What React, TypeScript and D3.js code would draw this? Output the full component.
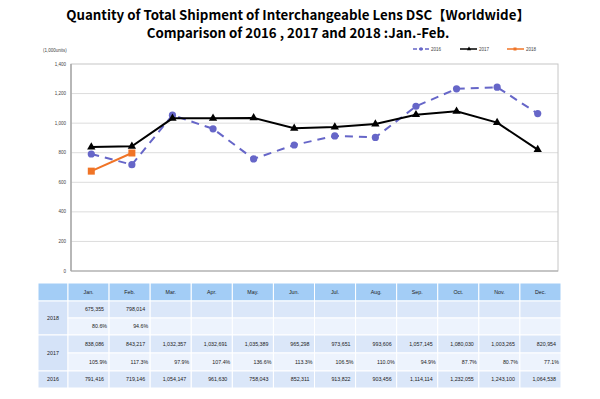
import * as d3 from "d3";

const MONTHS = ["Jan.", "Feb.", "Mar.", "Apr.", "May.", "Jun.", "Jul.", "Aug.", "Sep.", "Oct.", "Nov.", "Dec."];

// shipments, units
const S2016 = [791416, 719146, 1054147, 961630, 758043, 852311, 913822, 903456, 1114114, 1232055, 1243100, 1064538];
const S2017 = [838086, 843217, 1032357, 1032691, 1035389, 965298, 973651, 993606, 1057145, 1080030, 1003265, 820954];
const S2018 = [675355, 798014];

// year-on-year ratios shown in the table
const R2017 = ["105.9%", "117.3%", "97.9%", "107.4%", "136.6%", "113.3%", "106.5%", "110.0%", "94.9%", "87.7%", "80.7%", "77.1%"];
const R2018 = ["80.6%", "94.6%"];

const Y_TICKS = [0, 200, 400, 600, 800, 1000, 1200, 1400];

const C2016 = "#6666c8";
const C2017 = "#000000";
const C2018 = "#f07426";

const FONT = "'Liberation Sans', Arial, sans-serif";
const TITLE_FONT = "'Noto Sans CJK JP', 'Noto Sans', sans-serif";

const fmt = d3.format(",");

export default function App() {
  const W = 600, H = 399;
  const plot = { left: 71, right: 558, top: 64, bottom: 271 };

  const x = d3.scaleBand<string>().domain(MONTHS).range([plot.left, plot.right]);
  const y = d3.scaleLinear().domain([0, 1400]).range([plot.bottom, plot.top]);
  const cx = (i: number) => (x(MONTHS[i]) as number) + x.bandwidth() / 2;

  const line = d3
    .line<number>()
    .x((_, i) => cx(i))
    .y((d) => y(d / 1000));

  const tri = d3.symbol().type(d3.symbolTriangle).size(30)();

  // table geometry
  const tx = d3.scaleBand<string>().domain(MONTHS).range([68, 561]);
  const labelX0 = 38;
  const rowEdges = [283, 301, 318, 335, 353, 371, 388];
  const HEAD = "#a3cdf6";
  const ROW_A = "#dbe7f9";
  const ROW_B = "#edf3fd";
  const LABEL = "#d5e3f8";

  const rows = [
    { label: "2018", span: 2, cells: [S2018.map(fmt), R2018], fills: [ROW_A, ROW_B] },
    { label: "2017", span: 2, cells: [S2017.map(fmt), R2017], fills: [ROW_A, ROW_B] },
    { label: "2016", span: 1, cells: [S2016.map(fmt)], fills: [ROW_A] },
  ];

  let r = 1;
  const tableRows: any[] = [];
  rows.forEach((row) => {
    const top = rowEdges[r];
    const bottom = rowEdges[r + row.span];
    tableRows.push({ kind: "label", label: row.label, top, bottom });
    row.cells.forEach((vals, k) => {
      tableRows.push({
        kind: "data",
        vals,
        pct: k === 1,
        top: rowEdges[r + k],
        bottom: rowEdges[r + k + 1],
        fill: row.fills[k],
      });
    });
    r += row.span;
  });

  return (
    <svg width={W} height={H} style={{ position: "absolute", left: 0, top: 0, background: "#fff" }}>
      {/* title */}
      <g fontFamily={TITLE_FONT} fontWeight="bold" fontSize={13.3} textAnchor="middle" fill="#000">
        <text x={298} y={20}>Quantity of Total Shipment of Interchangeable Lens DSC【Worldwide】</text>
        <text x={298} y={37.5}>Comparison of 2016 , 2017 and 2018 :Jan.-Feb.</text>
      </g>

      <text x={43} y={52} fontFamily={FONT} fontSize={4.5} fill="#444">(1,000units)</text>

      {/* legend */}
      <g fontFamily={FONT} fontSize={4.5} fill="#444">
        <line x1={413} x2={429} y1={49} y2={49} stroke={C2016} strokeWidth={1.5} strokeDasharray="4 2" />
        <circle cx={421} cy={49} r={1.8} fill={C2016} />
        <text x={431} y={50.6}>2016</text>
        <line x1={460} x2={477} y1={49} y2={49} stroke={C2017} strokeWidth={1.5} />
        <path d={d3.symbol().type(d3.symbolTriangle).size(8)() as string} transform="translate(469,49)" fill={C2017} />
        <text x={479} y={50.6}>2017</text>
        <line x1={507} x2={524} y1={49} y2={49} stroke={C2018} strokeWidth={1.5} />
        <rect x={513.5} y={47.5} width={3} height={3} fill={C2018} />
        <text x={526} y={50.6}>2018</text>
      </g>

      {/* grid + y axis */}
      <g>
        {Y_TICKS.map((t) => (
          <g key={t}>
            {t > 0 && t < 1400 && (
              <line x1={plot.left} x2={plot.right} y1={y(t)} y2={y(t)} stroke="#dcdcdc" strokeWidth={1} />
            )}
            <text x={66} y={y(t) + 1.6} textAnchor="end" fontFamily={FONT} fontSize={4.5} fill="#444">
              {fmt(t)}
            </text>
          </g>
        ))}
        <rect
          x={plot.left}
          y={plot.top}
          width={plot.right - plot.left}
          height={plot.bottom - plot.top}
          fill="none"
          stroke="#c6c6c6"
          strokeWidth={1}
        />
        <line x1={plot.left} x2={plot.left} y1={plot.top} y2={plot.bottom} stroke="#a8a8a8" strokeWidth={1.5} />
        <line x1={plot.left} x2={plot.right} y1={plot.bottom} y2={plot.bottom} stroke="#a8a8a8" strokeWidth={1.2} />
      </g>

      {/* 2016 */}
      <path d={line(S2016) as string} fill="none" stroke={C2016} strokeWidth={2} strokeDasharray="8 6" />
      {S2016.map((d, i) => (
        <circle key={i} cx={cx(i)} cy={y(d / 1000)} r={3.6} fill={C2016} />
      ))}

      {/* 2017 */}
      <path d={line(S2017) as string} fill="none" stroke={C2017} strokeWidth={2} />
      {S2017.map((d, i) => (
        <path key={i} d={tri as string} transform={`translate(${cx(i)},${y(d / 1000)})`} fill={C2017} />
      ))}

      {/* 2018 */}
      <path d={line(S2018) as string} fill="none" stroke={C2018} strokeWidth={2} />
      {S2018.map((d, i) => (
        <rect key={i} x={cx(i) - 3.5} y={y(d / 1000) - 3.5} width={7} height={7} fill={C2018} />
      ))}

      {/* table */}
      <g fontFamily={FONT} fontSize={5.3} fill="#222">
        <rect x={labelX0} y={rowEdges[0]} width={68 - labelX0} height={rowEdges[1] - rowEdges[0]} fill={HEAD} stroke="#fff" />
        {MONTHS.map((m) => (
          <g key={m}>
            <rect x={tx(m)} y={rowEdges[0]} width={tx.bandwidth()} height={rowEdges[1] - rowEdges[0]} fill={HEAD} stroke="#fff" />
            <text x={(tx(m) as number) + tx.bandwidth() / 2} y={(rowEdges[0] + rowEdges[1]) / 2 + 1.9} textAnchor="middle">
              {m}
            </text>
          </g>
        ))}
        {tableRows.map((row, k) =>
          row.kind === "label" ? (
            <g key={k}>
              <rect x={labelX0} y={row.top} width={68 - labelX0} height={row.bottom - row.top} fill={LABEL} stroke="#fff" />
              <text x={(labelX0 + 68) / 2} y={(row.top + row.bottom) / 2 + 1.9} textAnchor="middle">
                {row.label}
              </text>
            </g>
          ) : (
            <g key={k}>
              {MONTHS.map((m, i) => (
                <g key={m}>
                  <rect x={tx(m)} y={row.top} width={tx.bandwidth()} height={row.bottom - row.top} fill={row.fill} stroke="#fff" />
                  {row.vals[i] != null && (
                    <text
                      x={(tx(m) as number) + tx.bandwidth() - (row.pct ? 2 : 5)}
                      y={(row.top + row.bottom) / 2 + 1.9}
                      textAnchor="end"
                    >
                      {row.vals[i]}
                    </text>
                  )}
                </g>
              ))}
            </g>
          )
        )}
      </g>
    </svg>
  );
}
